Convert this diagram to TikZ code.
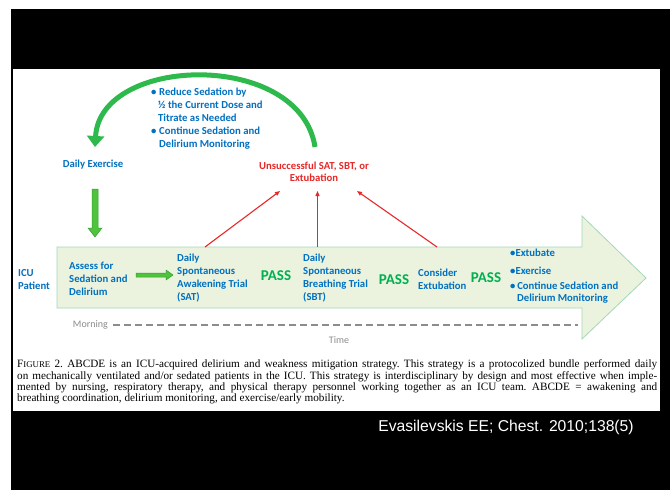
\documentclass[tikz,border=0pt]{standalone}
\usepackage{fontspec}
\setmainfont{Carlito}
\newfontfamily\capfont{Liberation Serif}
\newfontfamily\citefont{Liberation Sans}
\usetikzlibrary{arrows.meta}
\definecolor{txtblue}{RGB}{0,112,192}
\definecolor{passgreen}{RGB}{0,176,80}
\definecolor{failred}{RGB}{232,40,40}
\definecolor{bodyfill}{RGB}{235,243,222}
\definecolor{bodyline}{RGB}{165,215,185}
\definecolor{blockgreen}{RGB}{80,195,60}
\definecolor{blockedge}{RGB}{50,160,50}
\definecolor{curvegreen}{RGB}{45,185,75}
\definecolor{timegray}{RGB}{140,140,140}
\tikzset{
  lbl/.style={font=\bfseries\fontsize{10.7}{13}\selectfont, inner sep=0pt, align=left, text=txtblue},
  passlbl/.style={font=\bfseries\fontsize{15}{17}\selectfont, inner sep=0pt, text=passgreen},
  faillbl/.style={font=\bfseries\fontsize{10.7}{12}\selectfont, inner sep=0pt, align=center, text=failred},
  graylbl/.style={font=\fontsize{10}{12}\selectfont, inner sep=0pt, text=timegray},
  failarrow/.style={draw=failred, line width=1.1pt, -{Triangle[length=5pt,width=4pt]}},
  blockarrow/.style={fill=blockgreen, draw=blockedge, line width=0.5pt},
  curvearrow/.style={draw=curvegreen, line width=5pt, -{Triangle[length=11pt,width=17pt]}},
}
\newcommand{\bul}{\makebox[8pt][l]{\textbullet}}
\begin{document}
\begin{tikzpicture}[x=1pt,y=-1pt]
\useasboundingbox (0,0) rectangle (670,490);
\fill[white] (0,0) rectangle (670,490);
\fill[black] (11,9) rectangle (670,490);
\fill[white] (13,69) rectangle (660,411);

% big timeline arrow
\filldraw[fill=bodyfill, draw=bodyline, line width=0.8pt]
  (57,247) -- (582,247) -- (582,216) -- (646,278) -- (582,339) -- (582,308) -- (57,308) -- cycle;

% curved green arrow
\coordinate (cs) at (315,147);
\coordinate (ce) at (95,147);
\draw[curvearrow] (cs) .. controls (300,50) and (100,55) .. (ce);

% texts top
\node[lbl, anchor=west] (reduce) at (151,118.7) {\bul Reduce Sedation by\\
\hspace*{7pt}½ the Current Dose and\\
\hspace*{7pt}Titrate as Needed\\
\bul Continue Sedation and\\
\hspace*{8pt}Delirium Monitoring};
\node[lbl] (exercise) at (93,165) {Daily Exercise};
\node[faillbl] (fail) at (314,172) {Unsuccessful SAT, SBT, or\\Extubation};

% down block arrow
\filldraw[blockarrow] (92,189) -- (98,189) -- (98,228) -- (102,228) -- (95,237) -- (88,228) -- (92,228) -- cycle;

% row texts
\node[lbl, anchor=west] (icu) at (18,279.5) {ICU\\Patient};
\node[lbl, anchor=west] (assess) at (69,279) {Assess for\\Sedation and\\Delirium};
\node[lbl, anchor=west] (sat) at (177,278) {Daily\\Spontaneous\\Awakening Trial\\(SAT)};
\node[lbl, anchor=west] (sbt) at (303,278) {Daily\\Spontaneous\\Breathing Trial\\(SBT)};
\node[lbl, anchor=west] (consider) at (418,279.5) {Consider\\Extubation};
\node[passlbl] (pass1) at (276,276) {PASS};
\node[passlbl] (pass2) at (394,280) {PASS};
\node[passlbl] (pass3) at (486,278) {PASS};
\node[lbl, anchor=west] (r1) at (510,253) {\textbullet Extubate};
\node[lbl, anchor=west] (r2) at (510,271) {\textbullet Exercise};
\node[lbl, anchor=west, font=\bfseries\fontsize{10.7}{12}\selectfont] (r3) at (510,293) {\textbullet\,Continue Sedation and\\\hspace*{7pt}Delirium Monitoring};

% small horizontal arrow
\filldraw[blockarrow] (136,273) -- (166,273) -- (166,270) -- (173,275) -- (166,280) -- (166,277) -- (136,277) -- cycle;

% red arrows
\coordinate (a1s) at (205,247); \coordinate (a1e) at (280,191);
\coordinate (a2s) at (317.5,247); \coordinate (a2e) at (317.5,191);
\coordinate (a3s) at (437,247); \coordinate (a3e) at (357,191);
\draw[failarrow] (a1s) -- (a1e);
\draw[failarrow] (a2s) -- (a2e);
\draw[failarrow] (a3s) -- (a3e);

% time axis
\node[graylbl, anchor=east] (morning) at (108,325) {Morning};
\coordinate (dend) at (578,325);
\draw[timegray, line width=1.8pt, dash pattern=on 6.5pt off 4.5pt] (morning.east) ++(5,0) -- (dend);
\node[graylbl] (time) at (339,340) {Time};

% caption
\node[anchor=west, inner sep=0pt, text width=640pt, align=justify,
  font=\capfont\fontsize{11.2}{11.3}\selectfont\frenchspacing] (caption) at (17,382)
{F{\fontsize{8.8}{11.3}\selectfont IGURE} 2. ABCDE is an ICU-acquired delirium and weakness mitigation strategy. This strategy is a protocolized bundle performed daily\linebreak
on mechanically ventilated and/or sedated patients in the ICU. This strategy is interdisciplinary by design and most effective when imple-\linebreak
mented by nursing, respiratory therapy, and physical therapy personnel working together as an ICU team. ABCDE = awakening and\linebreak
breathing coordination, delirium monitoring, and exercise/early mobility.};

% citation
\node[inner sep=0pt, text=white, font=\citefont\fontsize{15.7}{18}\selectfont] (cite) at (506,427) {Evasilevskis EE; Chest. 2010;138(5)};
\end{tikzpicture}
\end{document}
